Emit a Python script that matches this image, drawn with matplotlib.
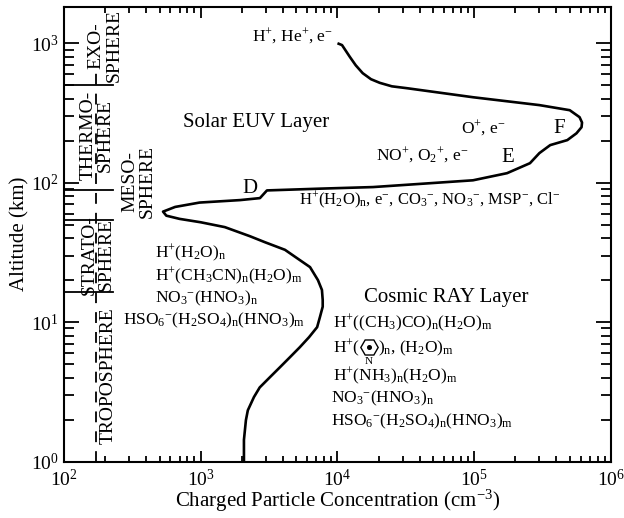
import matplotlib
matplotlib.use("Agg")
import matplotlib.pyplot as plt
from matplotlib.ticker import LogLocator, FixedFormatter, NullFormatter

plt.rcParams['font.family'] = ['Liberation Serif', 'DejaVu Serif']
plt.rcParams['mathtext.fontset'] = 'custom'
plt.rcParams['mathtext.rm'] = 'Liberation Serif'
plt.rcParams['mathtext.it'] = 'Liberation Serif'
plt.rcParams['mathtext.default'] = 'regular'

# Charged particle profile, from the top of the atmosphere down to the ground
altitude_km = [1000, 970, 800, 695, 610, 552, 520, 491, 476, 410, 360, 331, 295,
               270, 250, 226, 202, 186, 163, 138, 117, 104, 93, 90.6, 88, 77.5,
               75, 72, 67, 62, 58, 55, 52, 48, 41.3, 37.4, 33, 27.8, 24.8, 20,
               17, 14.4, 12.9, 10.9, 9.2, 7.8, 6.6, 5.61, 4.75, 4.03, 3.4, 2.9,
               2.33, 1.98, 1.43, 1.0]
concentration = [1.0e4, 1.08e4, 1.23e4, 1.36e4, 1.53e4, 1.76e4, 2.04e4, 2.5e4,
                 3.22e4, 9.8e4, 3.0e5, 5.0e5, 5.9e5, 6.15e5, 6.1e5, 5.6e5,
                 4.8e5, 3.6e5, 3.0e5, 2.56e5, 1.74e5, 9.8e4, 1.82e4, 7.45e3,
                 3.05e3, 2.71e3, 1.94e3, 9.8e2, 6.5e2, 5.3e2, 5.6e2, 7.0e2,
                 1.0e3, 1.5e3, 2.29e3, 2.95e3, 4.13e3, 5.32e3, 6.3e3, 7.2e3,
                 7.7e3, 7.8e3, 7.8e3, 7.45e3, 7.1e3, 6.2e3, 5.3e3, 4.5e3,
                 3.8e3, 3.21e3, 2.7e3, 2.45e3, 2.21e3, 2.14e3, 2.07e3, 2.07e3]

x_ticks = [1e2, 1e3, 1e4, 1e5, 1e6]
x_tick_labels = ['$10^{2}$', '$10^{3}$', '$10^{4}$', '$10^{5}$', '$10^{6}$']
y_ticks = [1e0, 1e1, 1e2, 1e3]
y_tick_labels = ['$10^{0}$', '$10^{1}$', '$10^{2}$', '$10^{3}$']

# Atmospheric layer boundaries (km)
layer_bounds_km = [500, 88, 54, 16.4]

fig = plt.figure(figsize=(6.24, 5.18), dpi=100)
ax = fig.add_axes([0.1026, 0.109, 0.8764, 0.8775])
ax.set_xscale('log')
ax.set_yscale('log')
ax.set_xlim(1e2, 1e6)
ax.set_ylim(1.0, 10 ** 3.26)

ax.plot(concentration, altitude_km, color='black', lw=1.9,
        solid_joinstyle='round', solid_capstyle='butt')

for s in ax.spines.values():
    s.set_linewidth(1.5)

ax.set_xticks(x_ticks)
ax.xaxis.set_major_formatter(FixedFormatter(x_tick_labels))
ax.set_yticks(y_ticks)
ax.yaxis.set_major_formatter(FixedFormatter(y_tick_labels))
ax.xaxis.set_minor_locator(LogLocator(base=10, subs=range(2, 10)))
ax.yaxis.set_minor_locator(LogLocator(base=10, subs=range(2, 10)))
ax.xaxis.set_minor_formatter(NullFormatter())
ax.yaxis.set_minor_formatter(NullFormatter())
ax.tick_params(which='both', direction='in', top=True, right=True, width=1.3,
               labelsize=14)
ax.tick_params(axis='x', which='major', length=8, pad=5)
ax.tick_params(axis='x', which='minor', length=4.5)
ax.tick_params(axis='y', which='major', length=11, pad=4)
ax.tick_params(axis='y', which='minor', length=7)

ax.set_xlabel('Charged Particle Concentration (cm$^{-3}$)', fontsize=15, labelpad=-1)
ax.set_ylabel('Altitude (km)', fontsize=15, labelpad=1)

# Atmosphere layer strip along the left edge
ax.plot([171, 171], [1.0, 700], color='black', lw=1.3, ls=(0, (6, 5)))
for b in layer_bounds_km:
    ax.plot([100, 228], [b, b], color='black', lw=1.3)

layer_kw = dict(rotation=90, ha='center', va='center', fontsize=14,
                linespacing=1.05, multialignment='center')
ax.text(200, 968, 'EXO-\nSPHERE', **layer_kw)
ax.text(174, 219, 'THERMO-\nSPHERE', **layer_kw)
ax.text(350, 102, 'MESO-\nSPHERE', **layer_kw)
ax.text(177, 30.3, 'STRATO-\nSPHERE', **layer_kw)
ax.text(210, 4.1, 'TROPOSPHERE', **layer_kw)

# Layer and region labels
ax.text(2540, 272, 'Solar EUV Layer', ha='center', va='center', fontsize=15)
ax.text(6.3e4, 14.9, 'Cosmic RAY Layer', ha='center', va='center', fontsize=15)
ax.text(2290, 91, 'D', ha='center', va='center', fontsize=15)
ax.text(1.75e5, 152, 'E', ha='center', va='center', fontsize=15)
ax.text(4.2e5, 246, 'F', ha='center', va='center', fontsize=15)

chem = dict(fontsize=12.5, va='center')
ax.text(9300, 1120, 'H$^{+}$, He$^{+}$, e$^{-}$', ha='right', **chem)
ax.text(1.16e5, 246, 'O$^{+}$, e$^{-}$', ha='center', **chem)
ax.text(4.2e4, 157, 'NO$^{+}$, O$_{2}$$^{+}$, e$^{-}$', ha='center', **chem)
ax.text(4.74e4, 75, 'H$^{+}$(H$_{2}$O)$_{n}$, e$^{-}$, CO$_{3}$$^{-}$, NO$_{3}$$^{-}$, '
        'MSP$^{-}$, Cl$^{-}$', ha='center', fontsize=12, va='center')

ax.text(463, 31.2, 'H$^{+}$(H$_{2}$O)$_{n}$', ha='left', **chem)
ax.text(463, 21.4, 'H$^{+}$(CH$_{3}$CN)$_{n}$(H$_{2}$O)$_{m}$', ha='left', **chem)
ax.text(463, 14.9, 'NO$_{3}$$^{-}$(HNO$_{3}$)$_{n}$', ha='left', **chem)
ax.text(270, 10.3, 'HSO$_{6}$$^{-}$(H$_{2}$SO$_{4}$)$_{n}$(HNO$_{3}$)$_{m}$', ha='left', **chem)

ax.text(9270, 9.84, 'H$^{+}$((CH$_{3}$)CO)$_{n}$(H$_{2}$O)$_{m}$', ha='left', **chem)
t1 = ax.text(9270, 6.5, 'H$^{+}$(', ha='left', **chem)
ax.text(9270, 4.1, 'H$^{+}$(NH$_{3}$)$_{n}$(H$_{2}$O)$_{m}$', ha='left', **chem)
ax.text(8900, 2.85, 'NO$_{3}$$^{-}$(HNO$_{3}$)$_{n}$', ha='left', **chem)
ax.text(8900, 1.95, 'HSO$_{6}$$^{-}$(H$_{2}$SO$_{4}$)$_{n}$(HNO$_{3}$)$_{m}$', ha='left', **chem)

# Pyridine ring drawn between the brackets
fig.canvas.draw()
renderer = fig.canvas.get_renderer()
bb = t1.get_window_extent(renderer)
inv = ax.transData.inverted()
y_disp = ax.transData.transform((1, 6.5))[1]
ring_x, ring_y = inv.transform((bb.x1 + 9, y_disp + 1))
ax.plot([ring_x], [ring_y], marker='H', ms=12.5, mfc='none', mec='black', mew=1.0)
ax.plot([ring_x], [ring_y], marker='o', ms=2.6, color='black')
n_x, n_y = inv.transform((bb.x1 + 9, y_disp - 13))
ax.text(n_x, n_y, 'N', ha='center', va='center', fontsize=8)
rest_x, _ = inv.transform((bb.x1 + 18, y_disp))
ax.text(rest_x, 6.5, ')$_{n}$, (H$_{2}$O)$_{m}$', ha='left', **chem)

fig.savefig('out.png', dpi=100)
